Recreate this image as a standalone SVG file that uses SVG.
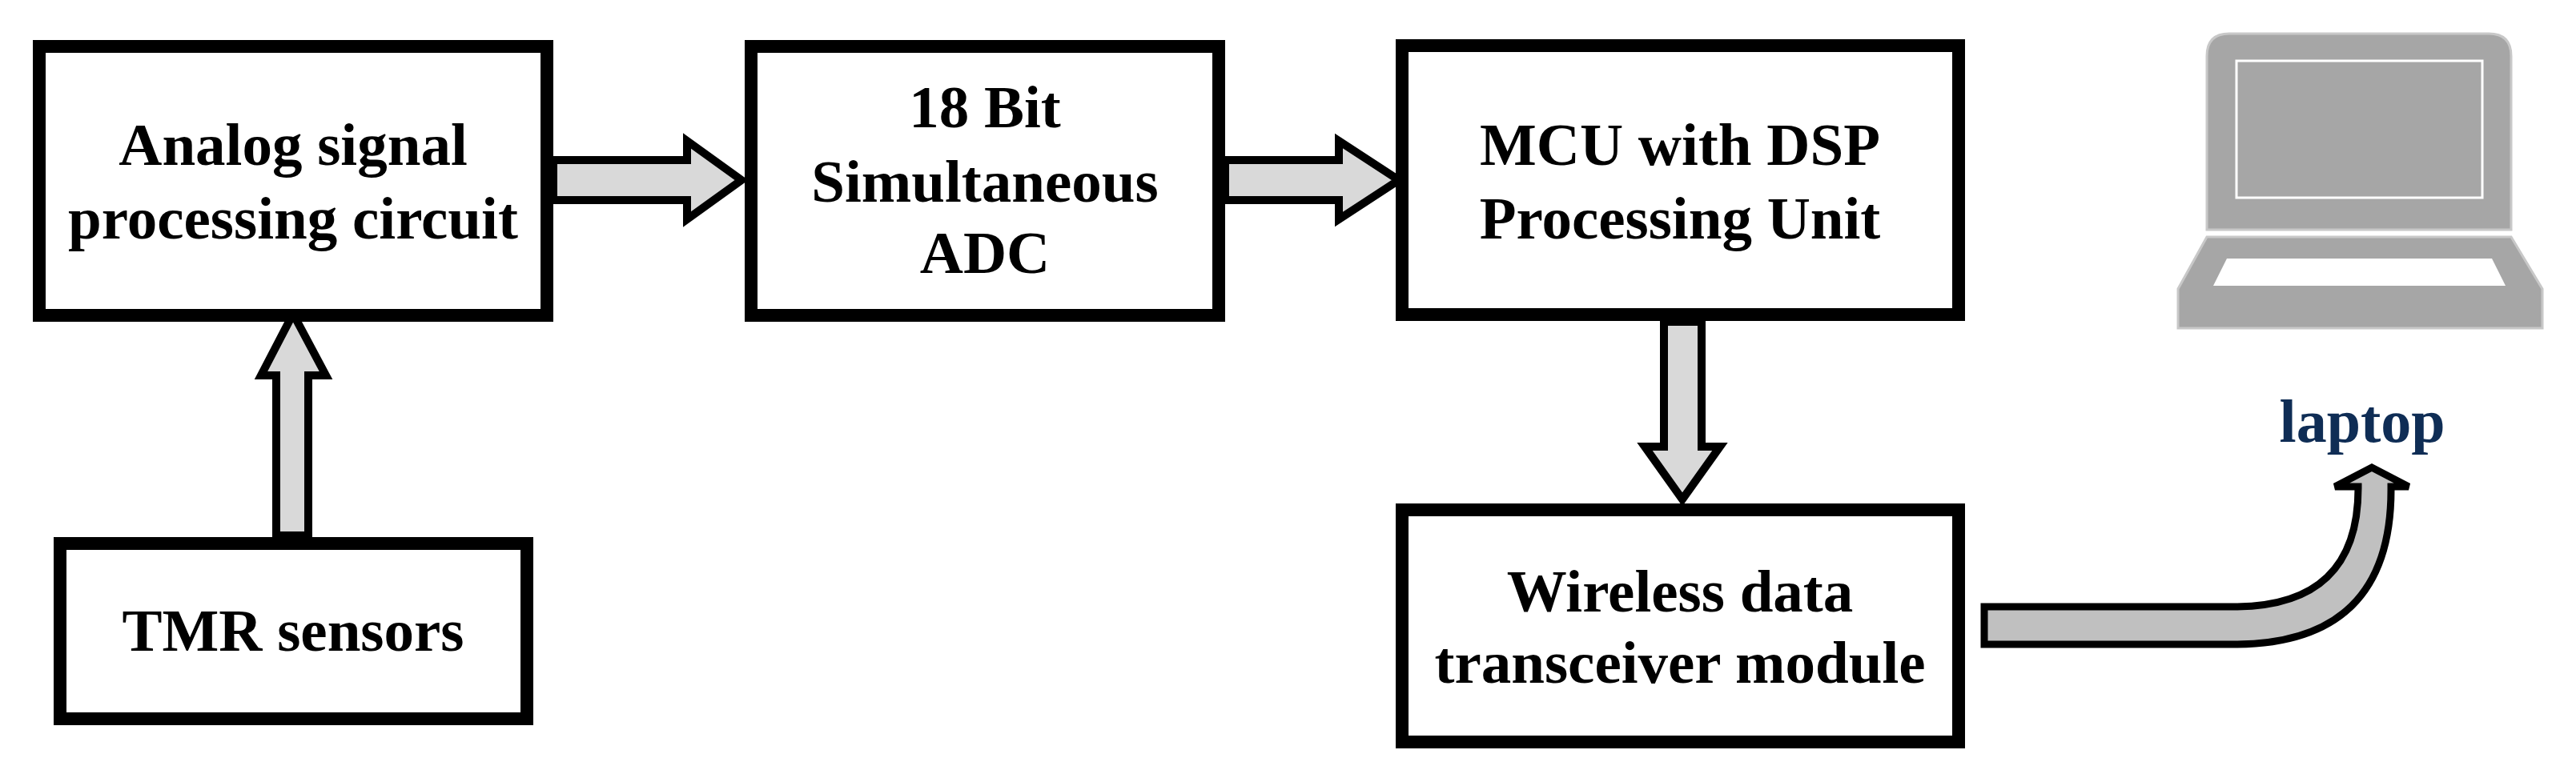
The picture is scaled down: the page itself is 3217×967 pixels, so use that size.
<svg xmlns="http://www.w3.org/2000/svg" width="3217" height="967" viewBox="0 0 3217 967">
<style>
.box{fill:#fff;stroke:#000;stroke-width:16}
.arr{fill:#d9d9d9;stroke:#000;stroke-width:10;stroke-linejoin:miter}
.t{font-family:"Liberation Serif",serif;font-weight:bold;font-size:75px;text-anchor:middle;fill:#000}
</style>
<rect width="3217" height="967" fill="#fff"/>
<g id="connectors">
<path class="arr" d="M691 200 H858 V176 L926 225 L858 274 V250 H691 Z"/>
<path class="arr" d="M1530 200 H1672 V176 L1747 225 L1672 274 V250 H1530 Z"/>
<path class="arr" d="M345 669 V469 H326 L366 392 L407 469 H385 V669 Z"/>
<path class="arr" d="M2078 402 V558 H2054 L2101 624 L2148 558 H2125 V402 Z"/>
<path d="M2478 758 H2790 Q2945 758 2945 610 V608 H2916 L2962 584 L3008 608 H2986 V612 Q2986 805 2790 805 H2478 Z" fill="#c0c0c0" stroke="#000" stroke-width="9"/>
</g>
<g id="analog"><rect class="box" x="49" y="58" width="634" height="336"/>
<text class="t" x="366" y="206">Analog signal</text><text class="t" x="366" y="298">processing circuit</text></g>
<g id="adc"><rect class="box" x="938" y="58" width="584" height="336"/>
<text class="t" x="1230" y="159">18 Bit</text><text class="t" x="1230" y="252">Simultaneous</text><text class="t" x="1230" y="341">ADC</text></g>
<g id="mcu"><rect class="box" x="1751" y="57" width="695" height="336"/>
<text class="t" x="2098" y="206">MCU with DSP</text><text class="t" x="2098" y="298">Processing Unit</text></g>
<g id="tmr"><rect class="box" x="75" y="679" width="583" height="219"/>
<text class="t" x="366" y="813">TMR sensors</text></g>
<g id="wireless"><rect class="box" x="1751" y="637" width="695" height="290"/>
<text class="t" x="2098" y="764">Wireless data</text><text class="t" x="2098" y="853">transceiver module</text></g>
<g id="laptop">
<path d="M2756 287 V70 Q2756 42 2784 42 H3108 Q3136 42 3136 70 V287 Z" fill="#a6a6a6" stroke="#c8c8c8" stroke-width="3"/>
<rect x="2793" y="76" width="307" height="171" fill="none" stroke="#fff" stroke-width="3"/>
<path d="M2756 296 H3136 L3175 361 V410 H2720 V361 Z" fill="#a6a6a6" stroke="#c8c8c8" stroke-width="3"/>
<path d="M2781 323 H3112 L3129 357 H2764 Z" fill="#fff"/>
<text x="2950" y="552" font-family="Liberation Serif,serif" font-weight="bold" font-size="76" fill="#0f2d55" text-anchor="middle">laptop</text>
</g>
</svg>
